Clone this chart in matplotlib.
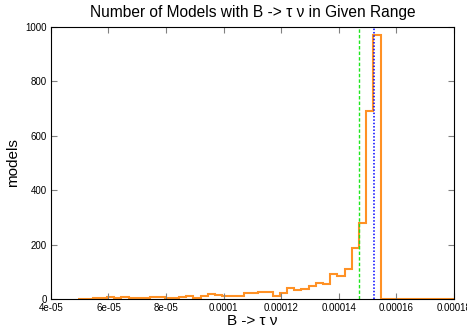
import numpy as np
import matplotlib
matplotlib.use("Agg")
import matplotlib.pyplot as plt

# histogram of B -> tau nu, bins of 2.5e-6 starting at 4.95e-5
bin_start = 4.95e-5
bin_width = 2.5e-6
counts = [0, 1, 2, 4, 7, 4, 7, 5, 4, 4, 7, 7, 4, 5, 7, 12,
          2, 10, 17, 13, 10, 12, 10, 21, 21, 24, 24, 12, 21, 39,
          32, 35, 48, 59, 55, 93, 85, 110, 188, 279, 692, 970,
          0, 0, 0, 0, 0, 0, 0, 0, 0, 0, 0]
green_line = 1.471e-4
blue_line = 1.522e-4

xticks = [4e-5, 6e-5, 8e-5, 1e-4, 1.2e-4, 1.4e-4, 1.6e-4, 1.8e-4]
xlabels = ["4e-05", "6e-05", "8e-05", "0.0001", "0.00012", "0.00014",
           "0.00016", "0.00018"]
yticks = [0, 200, 400, 600, 800, 1000]

plt.rcParams["font.family"] = ["Liberation Sans", "DejaVu Sans"]

fig = plt.figure(figsize=(4.67, 3.27), dpi=100)
ax = fig.add_axes([0.109, 0.086, 0.863, 0.831])

edges = bin_start + bin_width * np.arange(len(counts) + 1)
ax.stairs(counts, edges, color="#ff9125", lw=1.5, baseline=None)
ax.axvline(green_line, color="#1ee61e", lw=1.0, ls=(0, (2.5, 1.5)))
ax.axvline(blue_line, color="#0000ff", lw=1.1, ls=(0, (1, 1.2)))

ax.set_xlim(4e-5, 1.8e-4)
ax.set_ylim(0, 1000)
ax.set_xticks(xticks)
ax.set_xticklabels(xlabels)
ax.set_yticks(yticks)
ax.tick_params(direction="in", top=True, right=True, labelsize=7,
               length=4, color="#808080", pad=3)
ax.set_xlabel("B -> τ ν", fontsize=11, labelpad=1)
ax.set_ylabel("models", fontsize=11, labelpad=4)
ax.set_title("Number of Models with B -> τ ν in Given Range", fontsize=11.2, pad=7)

fig.savefig("out.png", dpi=100)
